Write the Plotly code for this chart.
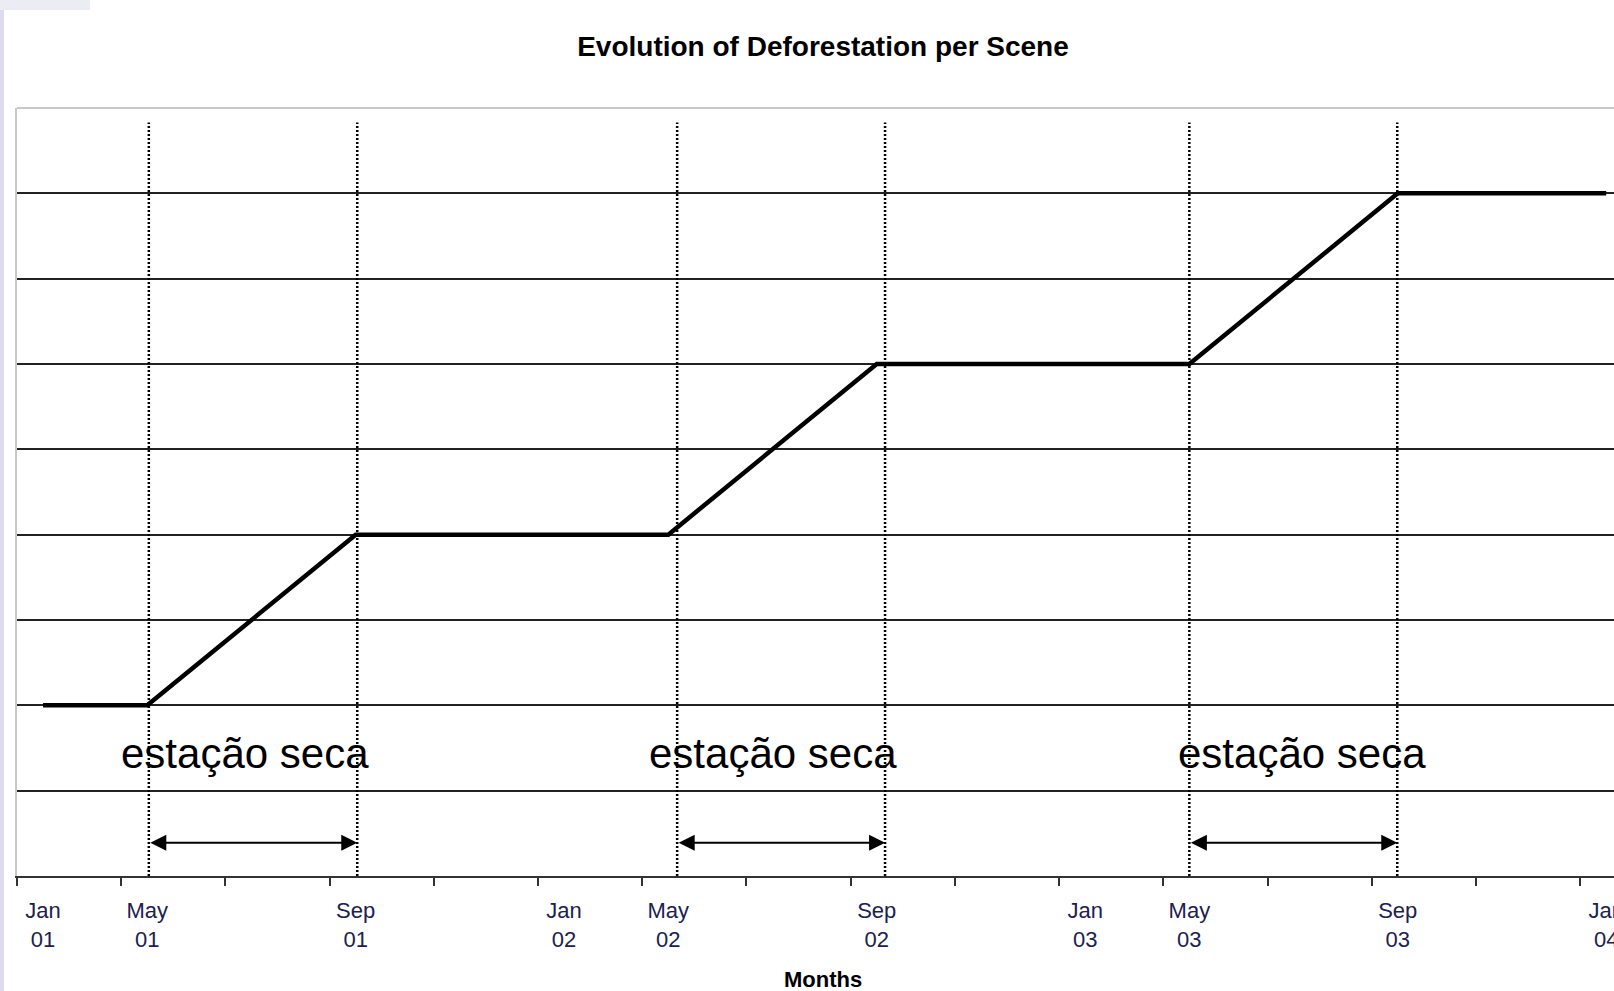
import plotly.graph_objects as go

# schematic month axis: 1 unit = half the spacing between tick marks
label_pos = [0.5, 2.5, 6.5, 10.5, 12.5, 16.5, 20.5, 22.5, 26.5, 30.5]
label_text = ["Jan<br>01", "May<br>01", "Sep<br>01", "Jan<br>02", "May<br>02",
              "Sep<br>02", "Jan<br>03", "May<br>03", "Sep<br>03", "Jan<br>04"]

# cumulative deforestation (arbitrary units)
curve_x = [0.5, 2.5, 6.5, 12.5, 16.5, 22.5, 26.5, 30.5]
curve_y = [2, 2, 4, 4, 6, 6, 8, 8]

# dry seasons (May -> Sep)
dry_start = [2.53, 12.67, 22.5]
dry_end = [6.53, 16.66, 26.49]
dry_label_x = [4.38, 14.5, 24.66]
dry_label = "estação seca"

W, H = 1614, 991
L, T, B = 17, 108, 115
x_max = 30.65
y_max = 9
font = "Arial, Liberation Sans, sans-serif"

fig = go.Figure()

# dotted season boundaries
vx, vy = [], []
for p in dry_start + dry_end:
    vx += [p, p, None]
    vy += [0, 8.83, None]
fig.add_trace(go.Scatter(x=vx, y=vy, mode="lines", hoverinfo="skip",
                         line=dict(color="black", width=2.5, dash="2px,2px")))

fig.add_trace(go.Scatter(x=curve_x, y=curve_y, mode="lines",
                         line=dict(color="black", width=4.5)))

# season arrows and labels
for s, e, lx in zip(dry_start, dry_end, dry_label_x):
    fig.add_annotation(x=e, y=0.39, ax=s, ay=0.39, xref="x", yref="y",
                       axref="x", ayref="y", text="", showarrow=True,
                       arrowhead=2, startarrowhead=2, arrowside="end+start",
                       arrowsize=1.6, startarrowsize=1.6,
                       arrowwidth=2, arrowcolor="black")
    fig.add_annotation(x=lx, y=1.43, xref="x", yref="y", text=dry_label,
                       showarrow=False, yanchor="middle",
                       font=dict(family=font, size=42, color="black"))

# axis title placed manually (plot box is cut off on the right)
fig.add_annotation(x=(823 - L) / (W - L), y=-(979 - (H - B)) / (H - B - T),
                   xref="paper", yref="paper", text="<b>Months</b>",
                   showarrow=False, yanchor="middle",
                   font=dict(family=font, size=22, color="black"))

# top border of the plot box
fig.add_shape(type="line", xref="paper", yref="paper", x0=0, x1=1, y0=1, y1=1,
              line=dict(color="#c8c8c8", width=2))

# slide background bits at the left edge
ph = H - B - T
fig.add_shape(type="rect", xref="paper", yref="paper", layer="below",
              x0=-L / (W - L), x1=-(L - 4) / (W - L), y0=-B / ph, y1=1 + T / ph,
              line_width=0, fillcolor="#dcdcee")
fig.add_shape(type="rect", xref="paper", yref="paper", layer="below",
              x0=-L / (W - L), x1=(90 - L) / (W - L), y0=1 + (T - 10) / ph, y1=1 + T / ph,
              line_width=0, fillcolor="#ececf4")

fig.update_layout(
    width=W, height=H,
    margin=dict(l=L, r=0, t=T, b=B),
    paper_bgcolor="white", plot_bgcolor="white",
    showlegend=False,
    title=dict(text="<b>Evolution of Deforestation per Scene</b>",
               x=823 / W, xanchor="center", xref="container",
               y=1 - 46 / H, yanchor="middle", yref="container",
               font=dict(family=font, size=28, color="black")),
)

fig.update_xaxes(range=[0, x_max], tickmode="array", tickvals=label_pos,
                 ticktext=label_text, ticks="", showgrid=False, zeroline=False,
                 showline=True, linecolor="#333333", linewidth=2,
                 tickfont=dict(family=font, size=22, color="#202050"),
                 ticklabelstandoff=14, ticklabeloverflow="allow", automargin=False,
                 minor=dict(ticks="outside", tickmode="linear", tick0=0, dtick=2,
                            ticklen=8, tickwidth=2, tickcolor="#333333", showgrid=False))

fig.update_yaxes(range=[0, y_max], tickmode="array", tickvals=list(range(1, 9)),
                 showticklabels=False, ticks="", showgrid=True,
                 gridcolor="#222222", gridwidth=1.5, zeroline=False, automargin=False,
                 showline=True, linecolor="#c8c8c8", linewidth=2)

# drop the browser's default page margin so the figure sits at the corner
fig.write_html("out.html", config={"displayModeBar": False},
               post_script="document.body.style.margin='0';")
